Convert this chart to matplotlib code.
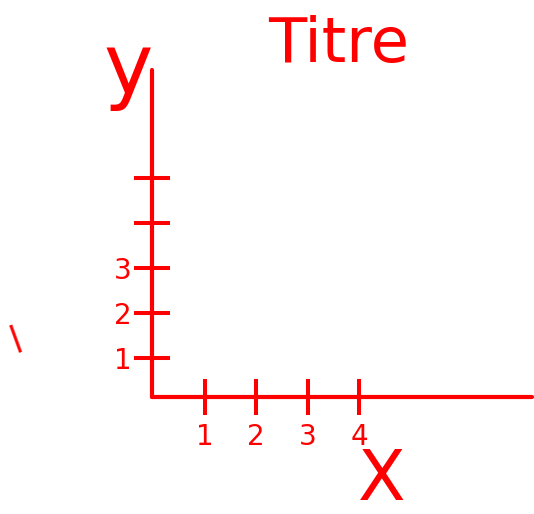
import matplotlib.pyplot as plt

RED = "#ff0000"

# Hand-sketched axes: tick values and which of them carry a label
x_ticks = [1, 2, 3, 4]
x_tick_labels = ["1", "2", "3", "4"]
y_ticks = [1, 2, 3, 4, 5]
y_tick_labels = ["1", "2", "3", "", ""]

title = "Titre"
x_label = "X"
y_label = "y"

fig = plt.figure(figsize=(5.34, 5.14), dpi=100)
fig.patch.set_facecolor("white")
ax = fig.add_axes([0.2846, 0.2276, 0.712, 0.636])

ax.set_xlim(-0.03, 7.37)
ax.set_ylim(0.13, 7.4)

for side in ("top", "right"):
    ax.spines[side].set_visible(False)
for side in ("left", "bottom"):
    ax.spines[side].set_color(RED)
    ax.spines[side].set_linewidth(3.0)
    ax.spines[side].set_capstyle("round")

ax.set_xticks(x_ticks, x_tick_labels)
ax.set_yticks(y_ticks, y_tick_labels)
ax.tick_params(axis="both", direction="inout", length=26, width=2.9,
               colors=RED, labelsize=20)
ax.tick_params(axis="x", pad=6)
ax.tick_params(axis="y", pad=2)

ax.set_title(title, color=RED, fontsize=45, x=0.49, y=1.024, pad=0)
# the big X sits under the last ticks, its baseline kept just inside the bottom edge
ax.set_xlabel(x_label, color=RED, fontsize=50, va="baseline")
ax.xaxis.set_label_coords(0.605, -0.315)
ax.set_ylabel(y_label, color=RED, fontsize=60, rotation=0, ha="center", va="center")
ax.yaxis.set_label_coords(-0.063, 1.0)

# stray pen stroke at the left edge
fig.text(15 / 534, 1 - 338 / 514, "|", color=RED, fontsize=20, fontweight="bold",
         rotation=20, ha="center", va="center")

fig.savefig("out.png", dpi=100, facecolor="white")
